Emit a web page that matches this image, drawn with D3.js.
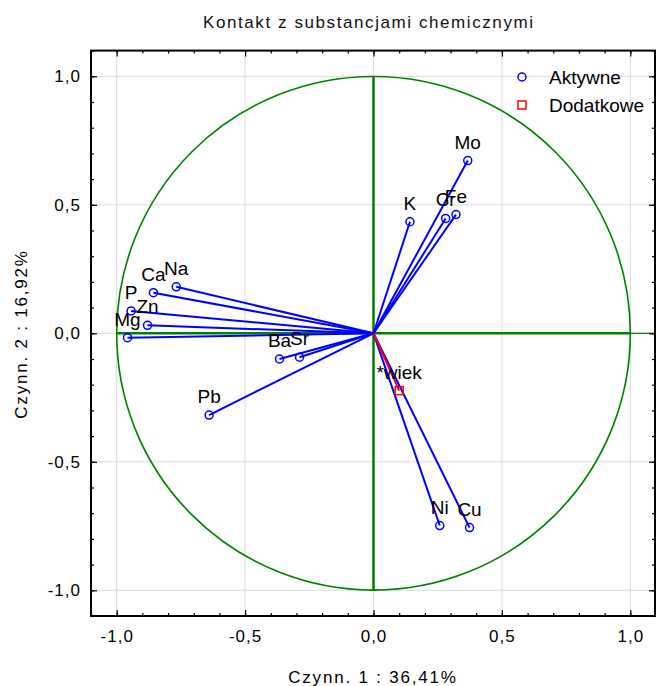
<!DOCTYPE html>
<html>
<head>
<meta charset="utf-8">
<script src="https://cdn.jsdelivr.net/npm/d3@7/dist/d3.min.js"></script>
<style>
  body { margin: 0; background: #fff; }
  svg { display: block; font-family: "Liberation Sans", Arial, sans-serif; }
</style>
</head>
<body>
<div id="chart"></div>
<script>
// zmienne aktywne (ładunki czynnikowe)
const activeNames = ['Mo', 'Fe', 'Cr', 'K', 'Na', 'Ca', 'P', 'Zn', 'Mg', 'Ba', 'Sr', 'Pb', 'Ni', 'Cu'];
const activeF1 = [0.367, 0.321, 0.281, 0.142, -0.768, -0.857, -0.944, -0.880, -0.958, -0.366, -0.288, -0.640, 0.258, 0.374];
const activeF2 = [0.672, 0.462, 0.447, 0.434, 0.181, 0.158, 0.087, 0.031, -0.017, -0.100, -0.093, -0.318, -0.748, -0.756];

// zmienne dodatkowe
const suppNames = ['*wiek'];
const suppF1 = [0.100];
const suppF2 = [-0.223];

const majorTicks = [-1.0, -0.5, 0.0, 0.5, 1.0];
const legendLabels = ['Aktywne', 'Dodatkowe'];

const W = 656, H = 686;
const fmt = d => d3.format('.1f')(d).replace('.', ',').replace('−', '-');

const svg = d3.select('#chart').append('svg')
  .attr('width', W)
  .attr('height', H);

const x = d3.scaleLinear().domain([-1.1, 1.1]).range([91, 656]);
const y = d3.scaleLinear().domain([-1.1, 1.1]).range([616, 50.6]);

const minorTicks = d3.range(-11, 12).map(i => i / 10);

// siatka
const grid = svg.append('g');
grid.selectAll('.gx').data(majorTicks).enter().append('line')
  .attr('x1', d => x(d)).attr('x2', d => x(d))
  .attr('y1', y(1.1)).attr('y2', y(-1.1))
  .attr('stroke', '#dcdcdc').attr('stroke-width', 1);
grid.selectAll('.gy').data(majorTicks).enter().append('line')
  .attr('y1', d => y(d)).attr('y2', d => y(d))
  .attr('x1', x(-1.1)).attr('x2', x(1.1))
  .attr('stroke', '#dcdcdc').attr('stroke-width', 1);

// koło jednostkowe i osie
const green = '#008000';
svg.append('circle')
  .attr('cx', x(0)).attr('cy', y(0))
  .attr('r', x(1) - x(0))
  .attr('fill', 'none').attr('stroke', green).attr('stroke-width', 1.6);
svg.append('line')
  .attr('x1', x(-1)).attr('x2', x(1))
  .attr('y1', y(0)).attr('y2', y(0))
  .attr('stroke', green).attr('stroke-width', 2.5);
svg.append('line')
  .attr('x1', x(1)).attr('x2', x(1.1))
  .attr('y1', y(0)).attr('y2', y(0))
  .attr('stroke', green).attr('stroke-width', 1.2);
svg.append('line')
  .attr('x1', x(0)).attr('x2', x(0))
  .attr('y1', y(1)).attr('y2', y(-1))
  .attr('stroke', green).attr('stroke-width', 2.5);

// dane
const active = activeNames.map((n, i) => ({ name: n, f1: activeF1[i], f2: activeF2[i] }));
const supp = suppNames.map((n, i) => ({ name: n, f1: suppF1[i], f2: suppF2[i] }));

svg.selectAll('.aline').data(active).enter().append('line')
  .attr('x1', x(0)).attr('y1', y(0))
  .attr('x2', d => x(d.f1)).attr('y2', d => y(d.f2))
  .attr('stroke', '#0000ff').attr('stroke-width', 2);

svg.selectAll('.sline').data(supp).enter().append('line')
  .attr('x1', x(0)).attr('y1', y(0))
  .attr('x2', d => x(d.f1)).attr('y2', d => y(d.f2))
  .attr('stroke', '#ff0000').attr('stroke-width', 2);

svg.selectAll('.apt').data(active).enter().append('circle')
  .attr('cx', d => x(d.f1)).attr('cy', d => y(d.f2))
  .attr('r', 4)
  .attr('fill', 'none').attr('stroke', '#0000ff').attr('stroke-width', 1.5);

svg.selectAll('.spt').data(supp).enter().append('rect')
  .attr('x', d => x(d.f1) - 4).attr('y', d => y(d.f2) - 4)
  .attr('width', 8).attr('height', 8)
  .attr('fill', 'none').attr('stroke', '#ff0000').attr('stroke-width', 1.5);

// etykiety punktów
svg.selectAll('.lbl').data(active.concat(supp)).enter().append('text')
  .attr('x', d => x(d.f1))
  .attr('y', d => y(d.f2) - 12)
  .attr('text-anchor', 'middle')
  .attr('font-size', 19)
  .attr('fill', '#000')
  .text(d => d.name);

// osie z tickami do środka
function drawAxis(axis, transform, labels) {
  const g = svg.append('g').attr('transform', transform).call(axis);
  g.select('.domain').remove();
  g.selectAll('.tick line').attr('stroke', '#000').attr('stroke-width', 1.2);
  if (!labels) g.selectAll('.tick text').remove();
  else g.selectAll('.tick text').attr('font-size', 17).attr('fill', '#000')
    .attr('letter-spacing', 1)
    .style('font-family', '"Liberation Sans", Arial, sans-serif');
  return g;
}
drawAxis(d3.axisBottom(x).tickValues(minorTicks).tickSize(-3).tickFormat(''), `translate(0,${y(-1.1)})`, false);
drawAxis(d3.axisBottom(x).tickValues(majorTicks).tickSize(-6).tickPadding(14).tickFormat(fmt), `translate(0,${y(-1.1)})`, true);
drawAxis(d3.axisTop(x).tickValues(minorTicks).tickSize(-3).tickFormat(''), `translate(0,${y(1.1)})`, false);
drawAxis(d3.axisTop(x).tickValues(majorTicks).tickSize(-6).tickFormat(''), `translate(0,${y(1.1)})`, false);
drawAxis(d3.axisLeft(y).tickValues(minorTicks).tickSize(-3).tickFormat(''), `translate(${x(-1.1)},0)`, false);
drawAxis(d3.axisLeft(y).tickValues(majorTicks).tickSize(-6).tickPadding(10).tickFormat(fmt), `translate(${x(-1.1)},0)`, true);
drawAxis(d3.axisRight(y).tickValues(minorTicks).tickSize(-3).tickFormat(''), `translate(${x(1.1) - 1},0)`, false);
drawAxis(d3.axisRight(y).tickValues(majorTicks).tickSize(-6).tickFormat(''), `translate(${x(1.1) - 1},0)`, false);

// ramka
svg.append('rect')
  .attr('x', x(-1.1)).attr('y', y(1.1))
  .attr('width', x(1.1) - 1 - x(-1.1)).attr('height', y(-1.1) - y(1.1))
  .attr('fill', 'none').attr('stroke', '#000').attr('stroke-width', 2);

// legenda
const legend = svg.append('g').attr('transform', 'translate(522,77)');
legend.append('circle').attr('cx', 0).attr('cy', 0).attr('r', 4)
  .attr('fill', 'none').attr('stroke', '#0000ff').attr('stroke-width', 1.5);
legend.append('rect').attr('x', -4).attr('y', 24).attr('width', 8).attr('height', 8)
  .attr('fill', 'none').attr('stroke', '#ff0000').attr('stroke-width', 1.5);
legend.selectAll('text').data(legendLabels).enter().append('text')
  .attr('x', 27).attr('y', (d, i) => i * 28 + 7)
  .attr('font-size', 19).attr('fill', '#000')
  .text(d => d);

// tytuł i opisy osi
svg.append('text')
  .attr('x', 368).attr('y', 28)
  .attr('text-anchor', 'middle')
  .attr('font-size', 17)
  .attr('textLength', 330)
  .attr('lengthAdjust', 'spacing')
  .attr('fill', '#111')
  .text('Kontakt z substancjami chemicznymi');

svg.append('text')
  .attr('x', 373).attr('y', 683)
  .attr('text-anchor', 'middle')
  .attr('font-size', 17)
  .attr('letter-spacing', 1.8)
  .attr('fill', '#000')
  .text('Czynn. 1 : 36,41%');

svg.append('text')
  .attr('transform', 'translate(27,334) rotate(-90)')
  .attr('text-anchor', 'middle')
  .attr('font-size', 17)
  .attr('letter-spacing', 1.8)
  .attr('fill', '#000')
  .text('Czynn. 2 : 16,92%');
</script>
</body>
</html>
